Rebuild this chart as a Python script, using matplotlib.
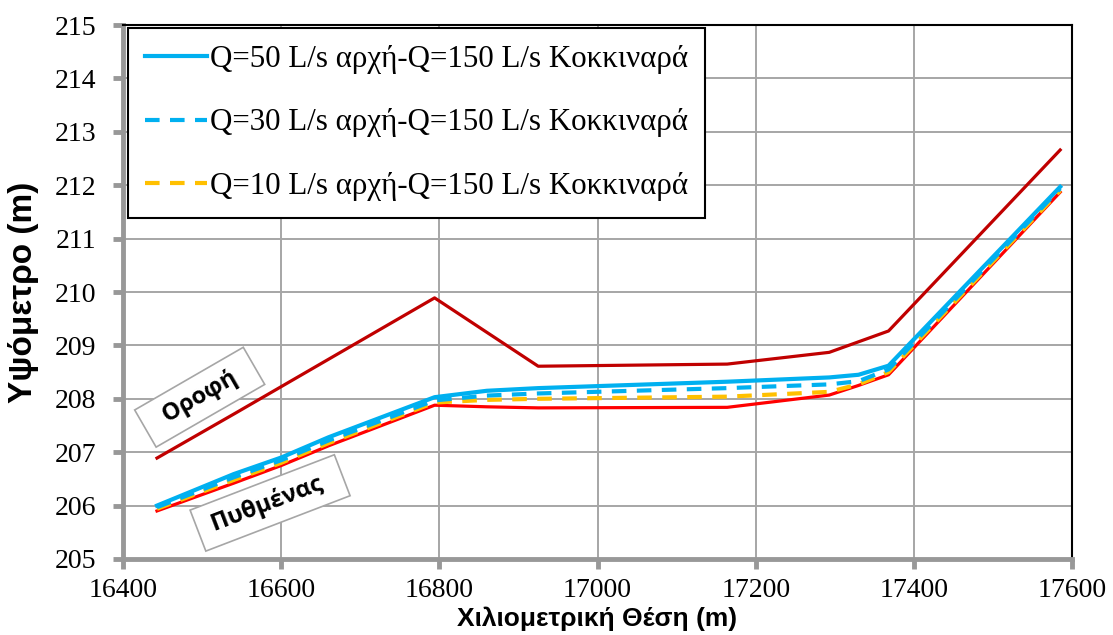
import matplotlib.pyplot as plt

# Χιλιομετρική θέση σταθμών (m)
stations = [16443, 16540, 16600, 16660, 16794, 16860, 16925, 17164, 17293, 17330, 17368, 17585]

# Στάθμες νερού για τα τρία σενάρια παροχής
q50 = [206.00, 206.59, 206.90, 207.28, 208.03, 208.15, 208.20, 208.32, 208.40, 208.45, 208.62, 211.97]
q30 = [205.97, 206.53, 206.85, 207.22, 207.97, 208.06, 208.10, 208.20, 208.27, 208.33, 208.55, 211.94]
q10 = [205.94, 206.48, 206.80, 207.17, 207.93, 207.98, 208.00, 208.04, 208.13, 208.27, 208.50, 211.90]

# Πυθμένας και οροφή
bottom = [205.90, 206.42, 206.75, 207.12, 207.88, 207.85, 207.83, 207.84, 208.07, 208.25, 208.45, 211.87]
roof_x = [16443, 16542, 16794, 16925, 17164, 17293, 17368, 17585]
roof = [206.89, 207.73, 209.89, 208.61, 208.65, 208.87, 209.27, 212.66]

labels = ['Q=50 L/s αρχή-Q=150 L/s Κοκκιναρά',
          'Q=30 L/s αρχή-Q=150 L/s Κοκκιναρά',
          'Q=10 L/s αρχή-Q=150 L/s Κοκκιναρά']
xticks = [16400, 16600, 16800, 17000, 17200, 17400, 17600]
yticks = list(range(205, 216))

fig = plt.figure(figsize=(11.13, 6.35), dpi=100)
ax = fig.add_axes([0.1105, 0.1197, 0.8527, 0.8409])

ax.plot(roof_x, roof, color='#C00000', lw=2.3, zorder=3)
ax.plot(stations, bottom, color='#FF0000', lw=2.3, zorder=3)
ax.plot(stations, q10, color='#FFC000', lw=3, ls=(0, (3.5, 2.5)), label=labels[2], zorder=4)
ax.plot(stations, q30, color='#00B0F0', lw=3, ls=(0, (3.5, 2.5)), label=labels[1], zorder=5)
ax.plot(stations, q50, color='#00B0F0', lw=3, label=labels[0], zorder=6)

ax.set_xlim(16400, 17600)
ax.set_ylim(205, 215)
ax.set_xticks(xticks)
ax.set_yticks(yticks)
ax.grid(True, color='#A6A6A6', lw=1.4)
ax.set_axisbelow(True)

for s in ['left', 'bottom']:
    ax.spines[s].set_color('#989898')
    ax.spines[s].set_linewidth(3.5)
for s in ['top', 'right']:
    ax.spines[s].set_color('black')
    ax.spines[s].set_linewidth(1.5)
ax.tick_params(axis='both', colors='#989898', width=3.5, length=7, labelcolor='black',
               labelsize=20)
ax.tick_params(axis='x', pad=7)
ax.tick_params(axis='y', pad=12)
for t in ax.get_xticklabels() + ax.get_yticklabels():
    t.set_fontfamily('Liberation Serif')

lab_family = ['Liberation Sans Narrow', 'Liberation Sans']
ax.set_ylabel('Υψόμετρο (m)', family=lab_family, weight='bold', size=24)
ax.yaxis.set_label_coords(-0.088, 0.5)
ax.set_xlabel('Χιλιομετρική Θέση (m)', family=lab_family, weight='bold', size=19)
ax.xaxis.set_label_coords(0.5, -0.089)

# σειρά υπομνήματος: Q50, Q30, Q10
h, l = ax.get_legend_handles_labels()
order = [2, 1, 0]
leg = ax.legend([h[i] for i in order], [l[i] for i in order], loc='upper left',
                bbox_to_anchor=(0.005, 0.995), borderaxespad=0, fancybox=False,
                edgecolor='black', framealpha=1, handlelength=2.0, handletextpad=0.1,
                labelspacing=1.12, borderpad=0.55,
                prop=dict(family='Liberation Serif', size=22.3))
leg.get_frame().set_linewidth(1.5)
leg.set_zorder(10)

box = dict(boxstyle='square,pad=0.4', fc='white', ec='#A6A6A6', lw=1.2)
ax.text(16497, 208.03, '  Οροφή  ', rotation=30, ha='center', va='center', fontsize=17,
        fontweight='bold', family='Open Sans', bbox=box, zorder=2)
ax.text(16586, 206.05, ' Πυθμένας  ', rotation=21, ha='center', va='center', fontsize=17,
        fontweight='bold', family='Open Sans', bbox=box, zorder=2)

plt.savefig('out.png', dpi=100)
